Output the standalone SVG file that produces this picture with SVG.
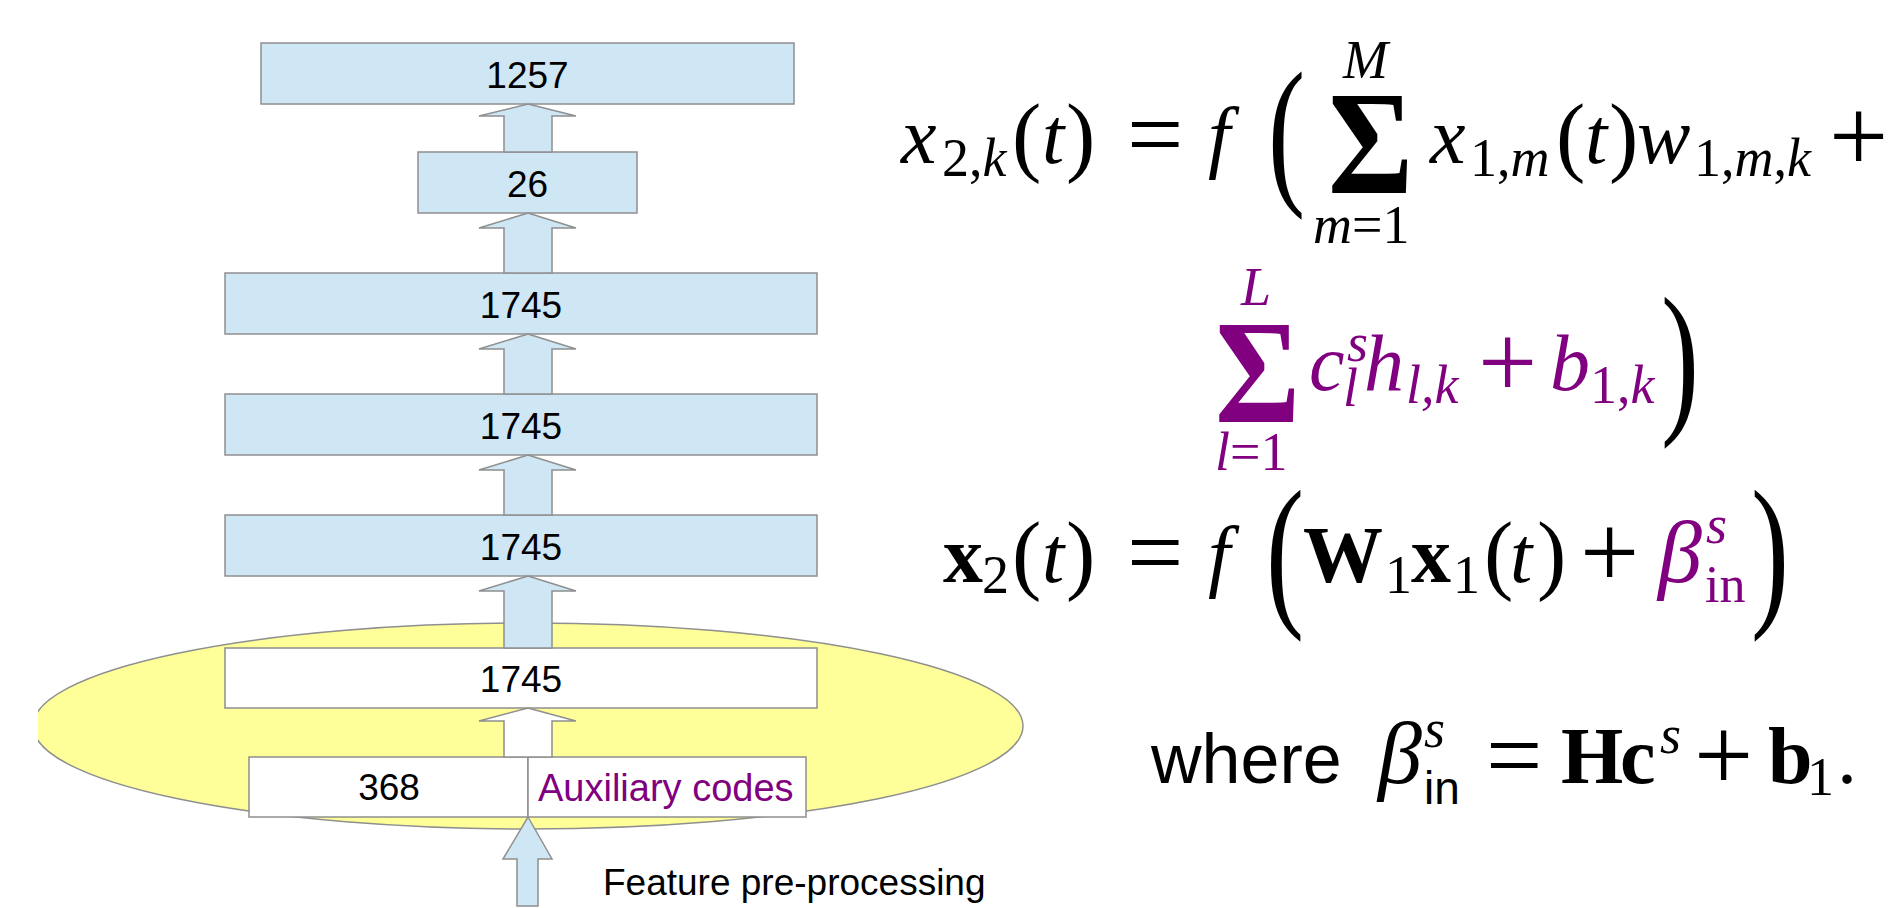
<svg xmlns="http://www.w3.org/2000/svg" width="1899" height="908" viewBox="0 0 1899 908">
<style>
.box{fill:#cfe7f5;stroke:#8f8f8f;stroke-width:1.5}
.wbox{fill:#ffffff;stroke:#8f8f8f;stroke-width:1.5}
.arr{fill:#cfe7f5;stroke:#8f8f8f;stroke-width:1.5}
.warr{fill:#ffffff;stroke:#8f8f8f;stroke-width:1.5}
.lbl{font-family:"Liberation Sans",Arial,sans-serif;font-size:37px;fill:#000;text-anchor:middle}
.lbs{font-family:"Liberation Sans",Arial,sans-serif;font-size:37px;fill:#000}
.m{font-family:"Liberation Serif","Times New Roman",serif;font-size:80px;fill:#000}
.i{font-style:italic}
.s{font-size:54px}
.bf{font-weight:bold}
.pu{fill:#800080}
.op{font-size:100px}
.pl{font-size:105px}
.sans{font-family:"Liberation Sans",Arial,sans-serif}
</style>
<defs>
<clipPath id="clipL"><rect x="38" y="0" width="1861" height="908"/></clipPath>
</defs>
<rect x="0" y="0" width="1899" height="908" fill="#ffffff"/>

<g id="auxiliary-region">
<ellipse cx="528" cy="726" rx="495" ry="103" fill="#ffff99" stroke="#8f8f8f" stroke-width="1.5" clip-path="url(#clipL)"/>
</g>

<g id="layer-1257"><rect class="box" x="261" y="43" width="533" height="61"/><text class="lbl" x="527.5" y="88">1257</text></g>
<g id="layer-26"><rect class="box" x="418" y="152" width="219" height="61"/><text class="lbl" x="527.5" y="197">26</text></g>
<g id="layer-1745-a"><rect class="box" x="225" y="273" width="592" height="61"/><text class="lbl" x="521" y="318">1745</text></g>
<g id="layer-1745-b"><rect class="box" x="225" y="394" width="592" height="61"/><text class="lbl" x="521" y="439">1745</text></g>
<g id="layer-1745-c"><rect class="box" x="225" y="515" width="592" height="61"/><text class="lbl" x="521" y="560">1745</text></g>
<g id="layer-1745-input"><rect class="wbox" x="225" y="648" width="592" height="60"/><text class="lbl" x="521" y="692">1745</text></g>
<g id="input-368"><rect class="wbox" x="249" y="757" width="279" height="60"/><text class="lbl" x="389" y="800">368</text></g>
<g id="input-aux"><rect class="wbox" x="528" y="757" width="278" height="60"/><text class="lbs" x="538" y="801" style="fill:#800080;font-size:38px">Auxiliary codes</text></g>
<g id="feature-label"><text class="lbs" x="603" y="895">Feature pre-processing</text></g>

<g id="connectors">
<polygon class="arr" points="528,104 576,116 552,116 552,152 504,152 504,116 479,116"/>
<polygon class="arr" points="528,213 576,228 552,228 552,273 504,273 504,228 479,228"/>
<polygon class="arr" points="528,334 576,349 552,349 552,394 504,394 504,349 479,349"/>
<polygon class="arr" points="528,455 576,470 552,470 552,515 504,515 504,470 479,470"/>
<polygon class="arr" points="528,576 576,591 552,591 552,648 504,648 504,591 479,591"/>
<polygon class="warr" points="528,708 576,721 552,721 552,757 504,757 504,721 479,721"/>
<polygon class="arr" points="528,817 552,859 538,859 538,906 517,906 517,859 503,859"/>
</g>

<g id="equations">
<!-- line 1 -->
<text class="m i" x="901" y="163">x</text>
<text class="m s" x="942" y="176">2,<tspan class="i">k</tspan></text>
<text class="m" x="1012" y="165" style="font-size:88px">(</text>
<text class="m i" x="1042" y="163">t</text>
<text class="m" x="1066" y="165" style="font-size:88px">)</text>
<text class="m op" x="1127" y="168">=</text>
<text class="m i" x="1208" y="163">f</text>
<text class="m" transform="translate(1268,185) scale(0.68,1)" style="font-size:164px">(</text>
<text class="m i s" x="1343" y="78">M</text>
<text class="m bf" transform="translate(1328,193) scale(0.88,1)" style="font-size:148px">Σ</text>
<text class="m s" x="1313" y="243"><tspan class="i">m</tspan>=1</text>
<text class="m i" x="1430" y="163">x</text>
<text class="m s" x="1470" y="176">1,<tspan class="i">m</tspan></text>
<text class="m" x="1556" y="165" style="font-size:88px">(</text>
<text class="m i" x="1585" y="163">t</text>
<text class="m" x="1609" y="165" style="font-size:88px">)</text>
<text class="m i" x="1637" y="163">w</text>
<text class="m s" x="1694" y="176">1,<tspan class="i">m</tspan>,<tspan class="i">k</tspan></text>
<text class="m pl" x="1829" y="172">+</text>

<!-- line 2 -->
<text class="m i s pu" x="1241" y="305">L</text>
<text class="m bf pu" transform="translate(1215,422) scale(0.88,1)" style="font-size:148px">Σ</text>
<text class="m s pu" x="1215" y="470"><tspan class="i">l</tspan>=1</text>
<text class="m i pu" x="1309" y="390">c</text>
<text class="m i s pu" x="1347" y="361">s</text>
<text class="m i s pu" x="1343" y="406">l</text>
<text class="m i pu" x="1364" y="390">h</text>
<text class="m i s pu" x="1406" y="403">l,k</text>
<text class="m pl pu" x="1478" y="398">+</text>
<text class="m i pu" x="1550" y="390">b</text>
<text class="m s pu" x="1590" y="403">1,<tspan class="i">k</tspan></text>
<text class="m" transform="translate(1661,413) scale(0.68,1)" style="font-size:168px">)</text>

<!-- line 3 -->
<text class="m bf" x="943" y="582">x</text>
<text class="m s" x="982" y="593">2</text>
<text class="m" x="1012" y="583" style="font-size:88px">(</text>
<text class="m i" x="1042" y="582">t</text>
<text class="m" x="1066" y="583" style="font-size:88px">)</text>
<text class="m op" x="1127" y="586">=</text>
<text class="m i" x="1208" y="582">f</text>
<text class="m" transform="translate(1266,606) scale(0.68,1)" style="font-size:168px">(</text>
<text class="m bf" x="1303" y="582">W</text>
<text class="m s" x="1385" y="593">1</text>
<text class="m bf" x="1411" y="582">x</text>
<text class="m s" x="1453" y="593">1</text>
<text class="m" x="1484" y="583" style="font-size:88px">(</text>
<text class="m i" x="1510" y="582">t</text>
<text class="m" x="1537" y="583" style="font-size:88px">)</text>
<text class="m pl" x="1580" y="588">+</text>
<text class="m i pu" x="1658" y="582" style="font-size:88px">β</text>
<text class="m i s pu" x="1706" y="543">s</text>
<text class="m pu" x="1705" y="602" style="font-size:52px">in</text>
<text class="m" transform="translate(1751,606) scale(0.68,1)" style="font-size:168px">)</text>

<!-- line 4 -->
<text class="sans" x="1151" y="783" style="font-size:70px">where</text>
<text class="m i" x="1378" y="783" style="font-size:88px">β</text>
<text class="m i s" x="1424" y="747">s</text>
<text class="sans" x="1424" y="804" style="font-size:46px">in</text>
<text class="m op" x="1486" y="789">=</text>
<text class="m bf" x="1561" y="783">H</text>
<text class="m bf" x="1620" y="783">c</text>
<text class="m i s" x="1660" y="753">s</text>
<text class="m pl" x="1694" y="791">+</text>
<text class="m bf" x="1768" y="783">b</text>
<text class="m s" x="1807" y="795">1</text>
<text class="m" x="1837" y="783">.</text>
</g>
</svg>
